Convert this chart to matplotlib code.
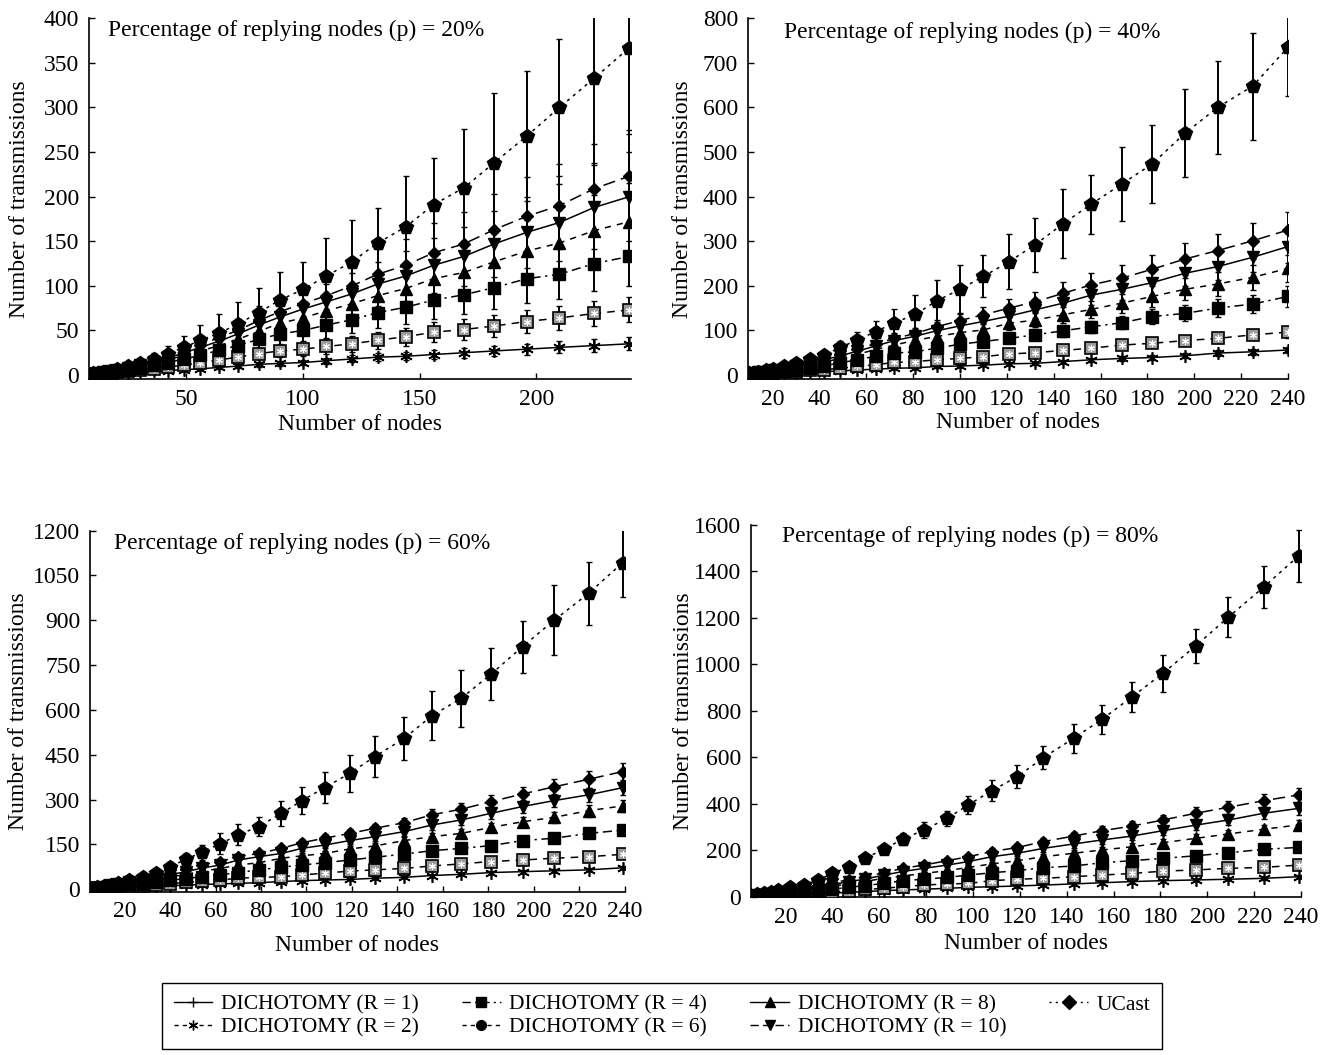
import matplotlib
matplotlib.use('Agg')
import matplotlib.pyplot as plt
from matplotlib.lines import Line2D

plt.rcParams['font.family'] = ['Liberation Serif', 'DejaVu Serif']
plt.rcParams['font.size'] = 17

# Number of nodes (x positions), top row and bottom row
x_top = [8, 10, 12, 14, 17, 20, 25, 30, 36, 42, 49, 56, 64, 72, 81, 90, 100,
         110, 121, 132, 144, 156, 169, 182, 196, 210, 225, 240]
x_bot = [5, 8, 11, 14, 17, 22, 28, 34, 40, 47, 54, 62, 70, 79, 89, 98, 108,
         119, 130, 143, 155, 168, 181, 195, 209, 224, 239]

# ---- p = 20% ----
p20_ucast = [1.5, 2, 2.5, 3.5, 5, 7, 10, 13, 18, 24, 31, 39, 47, 57, 70, 84, 96,
             111, 127, 148, 166, 191, 210, 238, 268, 300, 333, 367]
p20_ucast_err = [0.5, 0.7, 1, 1.3, 2, 3, 4, 5, 7, 9, 13, 17, 21, 25, 28, 32, 31,
                 43, 47, 39, 57, 52, 66, 78, 73, 77, 95, 97]
p20_r10 = [1.2, 1.8, 2.4, 3, 4.5, 6, 9, 12, 16, 21, 27, 34, 42, 50, 61, 71, 80,
           89, 100, 113, 123, 137, 147, 163, 178, 190, 209, 223]
p20_r10_err = [0.3, 0.5, 0.6, 0.8, 1.2, 1.6, 2.5, 3.5, 4.5, 6, 7, 9, 11, 13, 16,
               18, 20, 22, 25, 28, 30, 34, 36, 40, 44, 47, 50, 52]
p20_r8 = [1.2, 1.7, 2.2, 3, 4.2, 5.5, 8, 11, 15, 19, 25, 31, 38, 46, 56, 65, 74,
          82, 91, 102, 111, 123, 133, 147, 160, 171, 188, 200]
p20_r8_err = [0.3, 0.4, 0.6, 0.8, 1.1, 1.4, 2, 3, 4, 5, 6.5, 8, 10, 12, 14, 16,
              18, 20, 23, 25, 28, 31, 33, 37, 40, 43, 47, 50]
p20_r6 = [1, 1.5, 2, 2.7, 3.8, 5, 7, 10, 13, 17, 22, 27, 33, 40, 49, 58, 64, 72,
          80, 89, 97, 108, 115, 127, 139, 148, 162, 172]
p20_r6_err = [0.3, 0.4, 0.5, 0.7, 1, 1.3, 1.8, 2.5, 3.3, 4.3, 5.5, 7, 8, 10, 12,
              14, 16, 18, 20, 22, 24, 27, 29, 32, 35, 37, 40, 43]
p20_r4 = [1, 1.3, 1.7, 2.3, 3.2, 4, 6, 8, 11, 14, 18, 22, 28, 33, 40, 46, 50, 56,
          62, 70, 76, 84, 90, 98, 108, 113, 125, 133]
p20_r4_err = [0.3, 0.3, 0.4, 0.6, 0.8, 1, 1.5, 2, 2.8, 3.5, 4.5, 5.5, 7, 8, 10,
              11, 12, 14, 15, 17, 19, 21, 22, 24, 27, 28, 31, 33]
p20_r2 = [0.7, 1, 1.3, 1.7, 2.3, 3, 4, 5.5, 7, 9, 11, 14, 17, 20, 24, 27, 29, 32,
          35, 39, 43, 48, 51, 55, 60, 64, 69, 73]
p20_r2_err = [0.2, 0.3, 0.3, 0.4, 0.6, 0.8, 1, 1.4, 1.8, 2.3, 2.8, 3.5, 4.2, 5, 6,
              6.8, 7.2, 8, 8.8, 9.5, 10, 11, 11.5, 12, 12.5, 13, 13.5, 14]
p20_r1 = [0.4, 0.6, 0.8, 1, 1.3, 1.7, 2.3, 3, 4, 5, 6, 7, 8.5, 10, 12, 13, 14, 16,
          18, 20, 21, 23, 25, 27, 29, 31, 33, 35]
p20_r1_err = [0.1, 0.1, 0.2, 0.2, 0.3, 0.4, 0.5, 0.7, 0.9, 1.1, 1.3, 1.6, 1.9,
              2.2, 2.6, 2.9, 3.1, 3.5, 3.9, 4.3, 4.6, 5, 5.4, 5.8, 6.2, 6.6, 7, 7.5]

# ---- p = 40% ----
p40_ucast = [3, 4, 5, 7, 10, 13, 19, 26, 35, 45, 62, 78, 97, 117, 136, 166, 192,
             221, 254, 292, 339, 383, 428, 473, 542, 600, 648, 735]
p40_ucast_err = [0.5, 0.8, 1, 1.5, 2, 3, 4, 6, 8, 11, 14, 18, 23, 30, 43, 47, 55,
                 47, 62, 60, 77, 66, 83, 88, 99, 105, 120, 110]
p40_r10 = [2.3, 3.3, 4.5, 6, 8, 11, 16, 22, 30, 38, 48, 58, 70, 82, 93, 108, 122,
           135, 150, 164, 183, 202, 217, 237, 260, 279, 301, 325]
p40_r10_err = [0.3, 0.4, 0.6, 0.8, 1, 1.5, 2, 3, 4, 5, 6, 8, 9, 11, 13, 15, 17,
               18, 20, 22, 25, 27, 29, 32, 35, 37, 40, 40]
p40_r8 = [2, 3, 4, 5.5, 7.5, 10, 14, 20, 27, 34, 43, 53, 65, 77, 87, 99, 110, 120,
          132, 146, 161, 179, 192, 207, 228, 243, 264, 288]
p40_r8_err = [0.3, 0.4, 0.5, 0.7, 1, 1.3, 1.8, 2.5, 3.5, 4.5, 5.5, 7, 8, 10, 11,
              13, 14, 15, 17, 19, 21, 23, 25, 27, 29, 31, 33, 36]
p40_r6 = [1.8, 2.6, 3.5, 4.8, 6.5, 8.5, 12, 17, 23, 29, 37, 46, 57, 67, 78, 86, 95,
          101, 116, 123, 135, 147, 161, 176, 192, 204, 219, 239]
p40_r6_err = [0.2, 0.3, 0.5, 0.6, 0.8, 1.1, 1.5, 2.2, 3, 3.8, 4.8, 6, 7, 9, 10, 11,
              12, 13, 15, 16, 18, 19, 21, 23, 25, 26, 28, 30]
p40_r4 = [1.5, 2, 2.8, 3.6, 5, 6.5, 9, 12, 16, 21, 27, 34, 42, 49, 52, 60, 69, 75,
          82, 90, 99, 108, 117, 131, 138, 150, 159, 176]
p40_r4_err = [0.2, 0.3, 0.4, 0.5, 0.7, 0.9, 1.2, 1.6, 2.1, 2.7, 3.5, 4.4, 5.5, 6.4,
              6.8, 7.8, 9, 9.8, 11, 12, 13, 14, 15, 17, 18, 19.5, 21, 23]
p40_r2 = [1, 1.3, 1.7, 2.2, 3, 4, 5.5, 7.5, 10, 12, 15, 19, 23, 28, 30, 34, 37, 41,
          47, 50, 55, 60, 67, 71, 77, 82, 90, 96]
p40_r2_err = [0.1, 0.2, 0.2, 0.3, 0.4, 0.5, 0.7, 1, 1.3, 1.6, 2, 2.5, 3, 3.6, 3.9,
              4.4, 4.8, 5.3, 6, 6.5, 7, 7.8, 8.7, 9.2, 10, 10.7, 11.7, 12.5]
p40_r1 = [0.5, 0.7, 1, 1.3, 1.8, 2.4, 3.3, 4.5, 6, 7.5, 9, 11, 13, 15, 16, 19, 20,
          22, 25, 26, 30, 34, 37, 39, 43, 49, 52, 56]
p40_r1_err = [0.1, 0.1, 0.1, 0.2, 0.2, 0.3, 0.4, 0.6, 0.8, 1, 1.2, 1.4, 1.7, 2,
              2.1, 2.5, 2.6, 2.9, 3.2, 3.4, 3.9, 4.4, 4.8, 5, 5.6, 6.4, 6.8, 7.3]

# ---- p = 60% ----
p60_ucast = [5, 8, 12, 16, 22, 30, 42, 56, 76, 100, 124, 152, 182, 210, 254, 297,
             340, 388, 444, 505, 580, 639, 719, 812, 901, 990, 1093]
p60_ucast_err = [1, 1.5, 2, 3, 4, 5, 7, 10, 15, 20, 25, 35, 35, 33, 43, 45, 52, 61,
                 69, 72, 82, 95, 87, 87, 117, 105, 116]
p60_r10 = [4, 7, 11, 15, 19, 26, 35, 45, 56, 68, 81, 93, 109, 120, 137, 156, 171,
           187, 204, 223, 249, 268, 293, 319, 343, 368, 394]
p60_r10_err = [0.3, 0.5, 0.8, 1, 1.4, 2, 2.7, 3.5, 4.3, 5.2, 6.2, 7, 8, 9, 10.5,
               12, 13, 14, 16, 17, 19, 21, 22, 24, 26, 28, 30]
p60_r8 = [4, 6, 9, 13, 17, 23, 31, 40, 49, 59, 71, 81, 98, 109, 120, 137, 148, 163,
          176, 193, 215, 232, 254, 277, 297, 316, 340]
p60_r8_err = [0.3, 0.5, 0.7, 1, 1.3, 1.8, 2.4, 3, 3.8, 4.5, 5.4, 6.2, 7.4, 8.3, 9,
              10, 11, 12.4, 13.4, 14.7, 16, 17.6, 19, 21, 22.6, 24, 26]
p60_r6 = [3, 5, 8, 11, 14, 19, 26, 33, 41, 50, 60, 70, 81, 89, 104, 112, 120, 135,
          145, 163, 176, 187, 207, 226, 241, 263, 279]
p60_r6_err = [0.2, 0.4, 0.6, 0.8, 1, 1.4, 2, 2.5, 3.1, 3.8, 4.6, 5.3, 6.2, 6.8,
              7.9, 8.5, 9.1, 10.3, 11, 12.4, 13.4, 14.2, 15.7, 17.2, 18.3, 20, 21]
p60_r4 = [2.5, 4, 6, 8, 10, 14, 19, 24, 30, 36, 42, 48, 56, 65, 74, 81, 89, 98,
          107, 118, 129, 137, 146, 163, 171, 187, 198]
p60_r4_err = [0.2, 0.3, 0.4, 0.6, 0.8, 1.1, 1.4, 1.8, 2.3, 2.7, 3.2, 3.6, 4.3, 4.9,
              5.6, 6.2, 6.8, 7.4, 8.1, 9, 9.8, 10.4, 11, 12.4, 13, 14.2, 15]
p60_r2 = [2, 3, 4, 5, 7, 9, 12, 15, 19, 23, 27, 31, 37, 40, 42, 48, 54, 61, 65, 70,
          78, 85, 93, 98, 104, 109, 117]
p60_r2_err = [0.1, 0.2, 0.3, 0.4, 0.5, 0.7, 0.9, 1.1, 1.4, 1.7, 2, 2.4, 2.8, 3,
              3.2, 3.6, 4.1, 4.6, 4.9, 5.3, 5.9, 6.5, 7, 7.4, 7.9, 8.3, 8.9]
p60_r1 = [1, 1.5, 2.5, 3.5, 4.5, 6, 8, 10, 12, 14, 16, 18, 20, 22, 26, 29, 31, 33,
          37, 40, 46, 50, 56, 59, 62, 65, 72]
p60_r1_err = [0.1, 0.1, 0.2, 0.3, 0.3, 0.5, 0.6, 0.8, 0.9, 1.1, 1.2, 1.4, 1.5, 1.7,
              2, 2.2, 2.4, 2.5, 2.8, 3, 3.5, 3.8, 4.3, 4.5, 4.7, 4.9, 5.5]

# ---- p = 80% ----
p80_ucast = [6, 10, 15, 22, 30, 40, 52, 72, 100, 129, 165, 205, 247, 287, 337, 395,
             456, 517, 598, 682, 763, 861, 961, 1079, 1203, 1332, 1467]
p80_ucast_err = [1, 1.5, 2, 3, 4, 5, 6, 8, 10, 13, 18, 20, 25, 36, 33, 37, 46, 48,
                 50, 62, 64, 64, 80, 75, 86, 91, 111]
p80_r10 = [4, 7, 10, 14, 19, 26, 36, 47, 60, 73, 86, 103, 122, 136, 155, 172, 194,
           212, 237, 261, 284, 304, 330, 359, 385, 413, 438]
p80_r10_err = [0.3, 0.5, 0.7, 1, 1.3, 1.8, 2.5, 3.3, 4.2, 5, 6, 7, 8.5, 9.5, 11, 12,
               13.5, 15, 16.5, 18, 20, 21, 23, 25, 27, 29, 31]
p80_r8 = [4, 6, 9, 12, 17, 23, 32, 42, 53, 64, 76, 93, 108, 122, 136, 151, 172, 187,
          208, 227, 244, 261, 284, 308, 330, 359, 380]
p80_r8_err = [0.3, 0.4, 0.6, 0.8, 1.2, 1.6, 2.2, 2.9, 3.7, 4.5, 5.3, 6.5, 7.6, 8.5,
              9.5, 10.6, 12, 13, 14.6, 16, 17, 18, 20, 21.6, 23, 25, 26.6]
p80_r6 = [3, 5, 8, 10, 14, 20, 27, 35, 45, 55, 66, 79, 89, 100, 112, 126, 141, 155,
          172, 187, 201, 215, 232, 251, 270, 290, 309]
p80_r6_err = [0.2, 0.4, 0.6, 0.7, 1, 1.4, 1.9, 2.5, 3.2, 3.9, 4.6, 5.5, 6.2, 7, 7.8,
              8.8, 9.9, 10.9, 12, 13, 14, 15, 16, 17.6, 19, 20, 21.6]
p80_r4 = [2.5, 4, 6, 8, 11, 15, 20, 26, 33, 40, 48, 57, 69, 75, 83, 93, 103, 112,
          125, 132, 146, 155, 165, 176, 189, 204, 212]
p80_r4_err = [0.2, 0.3, 0.4, 0.6, 0.8, 1, 1.4, 1.8, 2.3, 2.8, 3.4, 4, 4.8, 5.3, 5.8,
              6.5, 7.2, 7.8, 8.8, 9.2, 10, 10.9, 11.6, 12.3, 13.2, 14.3, 14.8]
p80_r2 = [2, 3, 4, 5, 7, 9, 12, 16, 21, 26, 31, 36, 43, 50, 55, 57, 69, 75, 79, 86,
          93, 100, 110, 115, 122, 126, 136]
p80_r2_err = [0.1, 0.2, 0.3, 0.4, 0.5, 0.6, 0.8, 1.1, 1.5, 1.8, 2.2, 2.5, 3, 3.5,
              3.9, 4, 4.8, 5.3, 5.5, 6, 6.5, 7, 7.7, 8, 8.5, 8.8, 9.5]
p80_r1 = [1, 1.5, 2.5, 3.5, 4.5, 6, 9, 12, 15, 19, 22, 26, 29, 32, 36, 40, 43, 46,
          50, 55, 60, 65, 69, 72, 75, 79, 86]
p80_r1_err = [0.1, 0.1, 0.2, 0.2, 0.3, 0.4, 0.6, 0.8, 1, 1.3, 1.5, 1.8, 2, 2.2, 2.5,
              2.8, 3, 3.2, 3.5, 3.9, 4.2, 4.6, 4.8, 5, 5.3, 5.5, 6]

labels = ['DICHOTOMY (R = 1)', 'DICHOTOMY (R = 2)', 'DICHOTOMY (R = 4)',
          'DICHOTOMY (R = 6)', 'DICHOTOMY (R = 8)', 'DICHOTOMY (R = 10)', 'UCast']

# Per panel: x, series (R1, R2, R4, R6, R8, R10, UCast), errors
panels = [
    dict(x=x_top, p='20%',
         ys=[p20_r1, p20_r2, p20_r4, p20_r6, p20_r8, p20_r10, p20_ucast],
         es=[p20_r1_err, p20_r2_err, p20_r4_err, p20_r6_err, p20_r8_err,
             p20_r10_err, p20_ucast_err]),
    dict(x=x_top, p='40%',
         ys=[p40_r1, p40_r2, p40_r4, p40_r6, p40_r8, p40_r10, p40_ucast],
         es=[p40_r1_err, p40_r2_err, p40_r4_err, p40_r6_err, p40_r8_err,
             p40_r10_err, p40_ucast_err]),
    dict(x=x_bot, p='60%',
         ys=[p60_r1, p60_r2, p60_r4, p60_r6, p60_r8, p60_r10, p60_ucast],
         es=[p60_r1_err, p60_r2_err, p60_r4_err, p60_r6_err, p60_r8_err,
             p60_r10_err, p60_ucast_err]),
    dict(x=x_bot, p='80%',
         ys=[p80_r1, p80_r2, p80_r4, p80_r6, p80_r8, p80_r10, p80_ucast],
         es=[p80_r1_err, p80_r2_err, p80_r4_err, p80_r6_err, p80_r8_err,
             p80_r10_err, p80_ucast_err]),
]

# axes rectangles in figure fraction
rects = [[0.0668, 0.6403, 0.4066, 0.3424],
         [0.5611, 0.6405, 0.4051, 0.3422],
         [0.0675, 0.1548, 0.4013, 0.3422],
         [0.5634, 0.1494, 0.4126, 0.3530]]
xlims = [(8.2, 240.7), (9.5, 240), (4.8, 240), (5.3, 240)]
ylims = [(-5, 400), (-9.7, 800), (-8, 1200), (-3, 1600)]
ysteps = [50, 100, 150, 200]
xticks = [[50, 100, 150, 200]] + [list(range(20, 241, 20))] * 3
title_pos = [(0.035, 0.967), (0.067, 0.962), (0.045, 0.966), (0.056, 0.969)]
ylabel_x = [-70 / 542, -65 / 540, -71 / 535, -68 / 550]
xlabel_y = [-0.126, -0.121, -0.150, -0.123]

# line style / marker as drawn in the plots (R1, R2, R4, R6, R8, R10, UCast)
styles = [
    dict(ls='-', marker=(6, 2, 0), ms=9, mew=1.2, mfc='k'),
    dict(ls=(0, (5, 4)), marker='s', ms=8, mew=1.2, mfc='#9a9a9a'),
    dict(ls=(0, (6, 3, 1.5, 3)), marker='s', ms=8, mew=1, mfc='k'),
    dict(ls=(0, (4, 4)), marker='^', ms=8, mew=1, mfc='k'),
    dict(ls='-', marker='v', ms=8, mew=1, mfc='k'),
    dict(ls=(0, (8, 4)), marker='D', ms=6.5, mew=1, mfc='k'),
    dict(ls=(0, (2, 3)), marker='p', ms=10, mew=1, mfc='k'),
]

fig = plt.figure(figsize=(13.33, 10.55), dpi=100)

for i, pan in enumerate(panels):
    ax = fig.add_axes(rects[i])
    x = pan['x']
    for k in range(7):
        ax.errorbar(x, pan['ys'][k], yerr=pan['es'][k], fmt='none', ecolor='k',
                    elinewidth=1.4, capsize=2.5, capthick=1, zorder=2)
    for k in range(7):
        st = styles[k]
        ax.plot(x, pan['ys'][k], color='k', lw=1.1, linestyle=st['ls'],
                marker=st['marker'], ms=st['ms'], mew=st['mew'],
                mfc=st['mfc'], mec='k', zorder=3)
        if k == 1:
            # inner pattern of the grey squares
            ax.plot(x, pan['ys'][k], ls='none', marker=(6, 2, 0), ms=5,
                    mew=0.8, mec='white', zorder=3)
    ax.set_xlim(*xlims[i])
    ax.set_ylim(*ylims[i])
    ax.set_xticks(xticks[i])
    ax.set_yticks(range(0, int(ylims[i][1]) + 1, ysteps[i]))
    ax.spines['top'].set_visible(False)
    ax.spines['right'].set_visible(False)
    ax.spines['left'].set_linewidth(1.2)
    ax.spines['bottom'].set_linewidth(1.2)
    ax.tick_params(direction='in', length=4, width=1, labelsize=17, pad=7)
    ax.set_xlabel('Number of nodes', fontsize=17, va='center')
    ax.set_ylabel('Number of transmissions', fontsize=17, va='center')
    ax.xaxis.set_label_coords(0.5, xlabel_y[i])
    ax.yaxis.set_label_coords(ylabel_x[i], 0.5)
    ax.text(title_pos[i][0], title_pos[i][1],
            'Percentage of replying nodes (p) = ' + pan['p'],
            transform=ax.transAxes, fontsize=17, va='center', ha='left')

# legend uses its own symbols, as in the original figure
leg_styles = [('-', '+', 'k'), ((0, (3, 3)), (6, 2, 0), 'k'),
              ((0, (6, 3, 1.5, 3)), 's', 'k'), ((0, (3, 3)), 'o', 'k'),
              ('-', '^', 'k'), ((0, (6, 3)), 'v', 'k'), ((0, (1.5, 3)), 'D', 'k')]
handles = [Line2D([], [], color='k', lw=1, linestyle=ls, marker=m, ms=7, mfc=c,
                  mec='k') for ls, m, c in leg_styles]
leg = fig.legend(handles, labels, loc='center', bbox_to_anchor=(0.4966, 0.037),
                 ncol=4, frameon=True, fancybox=False, edgecolor='k',
                 framealpha=1, fontsize=15.5, handlelength=1.8, handletextpad=0.4,
                 columnspacing=2.0, labelspacing=0.1, borderpad=0.55)
leg.get_frame().set_linewidth(1)

fig.savefig('out.png', dpi=100)
